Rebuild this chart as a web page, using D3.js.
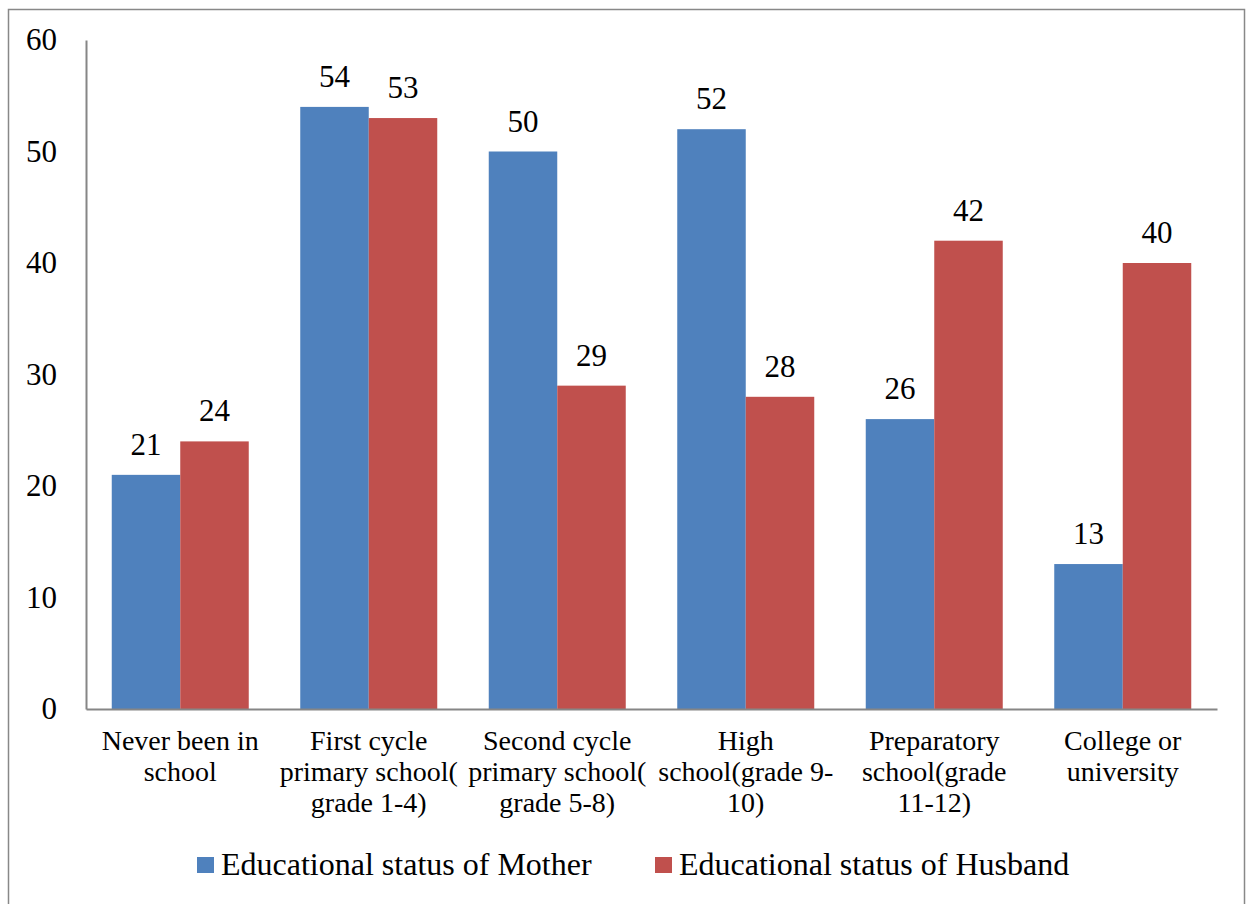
<!DOCTYPE html>
<html>
<head>
<meta charset="utf-8">
<script src="https://cdn.jsdelivr.net/npm/d3@7"></script>
<style>
  html, body { margin: 0; padding: 0; background: #fff; }
  svg { display: block; }
  svg text { font-family: "Liberation Serif", "Times New Roman", serif; fill: #000; }
</style>
</head>
<body>
<svg id="chart" width="1247" height="904"></svg>
<script>
const categories = [
  ["Never been in", "school"],
  ["First cycle", "primary school(", "grade 1-4)"],
  ["Second cycle", "primary school(", "grade 5-8)"],
  ["High", "school(grade 9-", "10)"],
  ["Preparatory", "school(grade", "11-12)"],
  ["College or", "university"]
];
const seriesNames = ["Educational status of Mother", "Educational status of Husband"];
const motherValues = [21, 54, 50, 52, 26, 13];
const husbandValues = [24, 53, 29, 28, 42, 40];
const yTicks = [0, 10, 20, 30, 40, 50, 60];
const colors = ["#4F81BD", "#C0504D"];
const FONT = '"Liberation Serif", "Times New Roman", serif';

const svg = d3.select("#chart");

// outer frame
svg.append("rect")
  .attr("x", 8.5).attr("y", 9.5)
  .attr("width", 1236).attr("height", 902)
  .attr("fill", "none").attr("stroke", "#888").attr("stroke-width", 1.5);

const mLeft = 86, mRight = 1217, mTop = 40, mBottom = 709;

const x0 = d3.scaleBand().domain(d3.range(categories.length)).range([mLeft, mRight]).paddingInner(0).paddingOuter(0);
const groupW = 137;
const x1 = d3.scaleBand().domain([0, 1]).range([0, groupW]).padding(0);
const y = d3.scaleLinear().domain([0, 60]).range([mBottom, mTop]);

const data = categories.map((c, i) => ({ i, vals: [motherValues[i], husbandValues[i]] }));

const groups = svg.append("g").selectAll("g").data(data).join("g")
  .attr("transform", d => `translate(${x0(d.i) + (x0.bandwidth() - groupW) / 2},0)`);

groups.selectAll("rect").data(d => d.vals.map((v, s) => ({ v, s }))).join("rect")
  .attr("x", d => x1(d.s))
  .attr("y", d => y(d.v))
  .attr("width", x1.bandwidth())
  .attr("height", d => y(0) - y(d.v))
  .attr("fill", d => colors[d.s]);

groups.selectAll("text.val").data(d => d.vals.map((v, s) => ({ v, s }))).join("text")
  .attr("class", "val")
  .attr("x", d => x1(d.s) + x1.bandwidth() / 2)
  .attr("y", d => y(d.v) - 20)
  .attr("text-anchor", "middle")
  .style("font-family", FONT)
  .style("font-size", "31px")
  .text(d => d.v);

// y axis
const yAxis = d3.axisLeft(y).tickValues(yTicks).tickSize(0).tickPadding(29);
const yg = svg.append("g").attr("transform", `translate(${mLeft},0)`).call(yAxis);
yg.attr("font-family", null);
yg.select(".domain").attr("stroke", "#868686").attr("stroke-width", 2);
yg.selectAll("text").style("font-size", "31px").style("font-family", FONT).attr("fill", "#000");

// x axis
const xAxis = d3.axisBottom(x0).tickSize(0).tickFormat(() => "");
const xg = svg.append("g").attr("transform", `translate(0,${mBottom})`).call(xAxis);
xg.select(".domain").attr("stroke", "#868686").attr("stroke-width", 2);

// category labels
const catG = svg.append("g");
categories.forEach((lines, i) => {
  const cx = x0(i) + x0.bandwidth() / 2;
  const t = catG.append("text").attr("text-anchor", "middle").style("font-family", FONT).style("font-size", "28px");
  lines.forEach((ln, k) => {
    t.append("tspan").attr("x", cx).attr("y", 750 + k * 31).text(ln);
  });
});

// legend
const legendX = [197, 655];
seriesNames.forEach((n, s) => {
  svg.append("rect").attr("x", legendX[s]).attr("y", 857).attr("width", 17).attr("height", 16).attr("fill", colors[s]);
  svg.append("text").attr("x", legendX[s] + 24).attr("y", 875).style("font-family", FONT).style("font-size", "32px").text(n);
});
</script>
</body>
</html>
